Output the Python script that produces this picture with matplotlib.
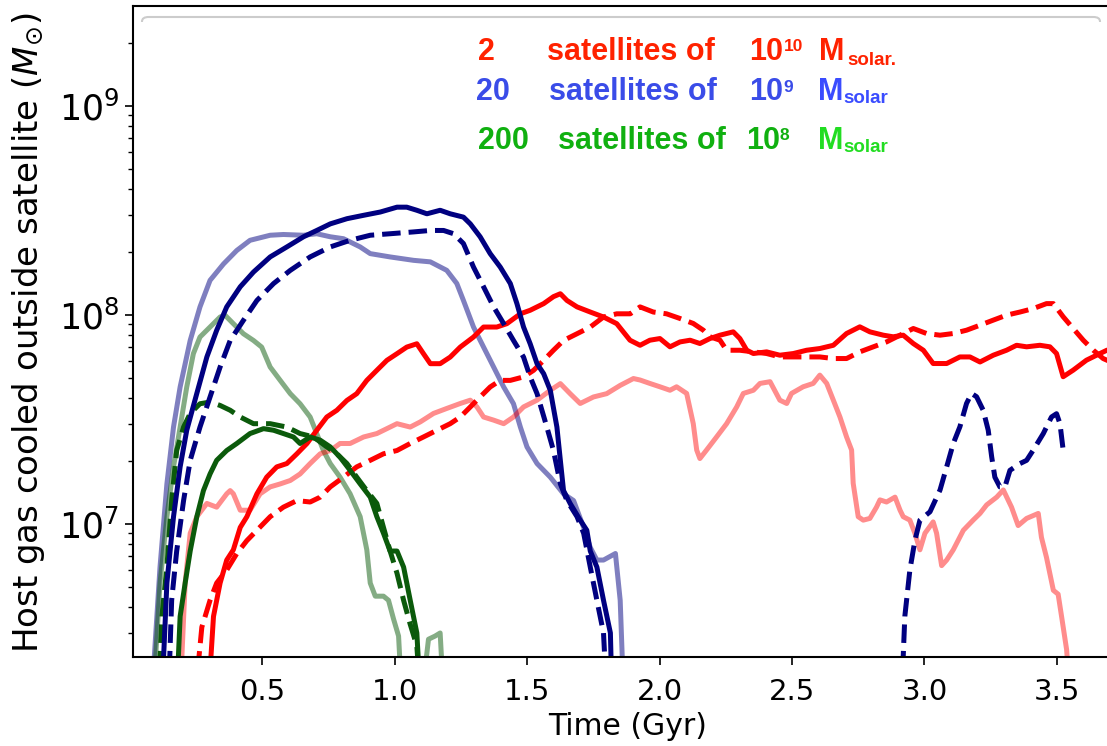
"""Host gas cooled outside satellites vs time, three satellite populations"""
import matplotlib
matplotlib.use("Agg")
import matplotlib.pyplot as plt
import numpy as np
from matplotlib.patches import FancyBboxPatch, Rectangle

# ---- data: time in Gyr, mass in units of 1e7 M_sun ----
# 20 satellites of 1e9 (faded run)
blue_faint_t = [0.082, 0.113, 0.139, 0.164, 0.189, 0.227, 0.264, 0.302, 0.353, 0.403, 0.453,
                0.529, 0.579, 0.655, 0.705, 0.756, 0.806, 0.869, 0.907, 0.982, 1.071, 1.134,
                1.196, 1.234, 1.259, 1.297, 1.335, 1.373, 1.411, 1.448, 1.474, 1.499, 1.537,
                1.587, 1.637, 1.675, 1.713, 1.738, 1.763, 1.788, 1.833, 1.851, 1.864]
blue_faint_m = [0.15, 0.62, 1.55, 2.90, 4.51, 7.53, 10.9, 14.6, 17.5, 20.3, 22.7,
                24.0, 24.2, 24.0, 24.4, 23.6, 23.1, 21.1, 19.6, 18.9, 18.2, 17.9,
                16.3, 14.1, 11.7, 8.73, 7.00, 5.62, 4.51, 3.75, 2.90, 2.33, 1.94,
                1.67, 1.39, 1.29, 0.96, 0.77, 0.67, 0.67, 0.72, 0.43, 0.15]

# 20 satellites of 1e9 (solid)
blue_solid_t = [0.120, 0.139, 0.164, 0.189, 0.214, 0.252, 0.290, 0.327, 0.365, 0.416, 0.466,
                0.529, 0.592, 0.655, 0.705, 0.756, 0.819, 0.882, 0.945, 1.008, 1.045, 1.083,
                1.121, 1.171, 1.209, 1.259, 1.285, 1.322, 1.360, 1.398, 1.436, 1.461, 1.486,
                1.511, 1.537, 1.562, 1.587, 1.612, 1.625, 1.637, 1.662, 1.700, 1.725, 1.738,
                1.763, 1.788, 1.814, 1.820]
blue_solid_m = [0.15, 0.52, 1.08, 1.87, 2.80, 4.20, 6.28, 8.42, 10.9, 13.6, 16.0,
                18.9, 21.1, 23.6, 25.3, 27.2, 28.8, 29.9, 31.0, 32.7, 32.7, 31.6,
                30.4, 31.6, 30.4, 29.3, 27.2, 23.6, 19.6, 16.9, 14.1, 11.3, 8.73,
                7.26, 5.83, 5.22, 4.35, 2.90, 2.01, 1.44, 1.25, 1.04, 0.93, 0.74,
                0.62, 0.43, 0.30, 0.15]

# 20 satellites of 1e9 (dashed), early and late segments
blue_dash_t = [0.145, 0.157, 0.176, 0.202, 0.227, 0.264, 0.302, 0.340, 0.378, 0.428, 0.479,
               0.542, 0.605, 0.680, 0.756, 0.831, 0.907, 0.982, 1.071, 1.134, 1.184, 1.222,
               1.259, 1.297, 1.335, 1.373, 1.411, 1.448, 1.486, 1.511, 1.537, 1.574, 1.599,
               1.625, 1.650, 1.688, 1.713, 1.738, 1.763, 1.788, 1.800]
blue_dash_m = [0.15, 0.43, 0.74, 1.29, 2.01, 2.90, 4.04, 5.62, 7.53, 9.40, 11.7,
               14.1, 16.3, 18.9, 21.1, 22.7, 24.0, 24.4, 24.9, 25.3, 25.3, 24.4,
               21.9, 16.9, 13.6, 10.9, 9.06, 7.53, 6.27, 5.04, 4.19, 2.90, 2.24,
               1.55, 1.29, 1.08, 0.90, 0.62, 0.43, 0.30, 0.15]
blue_dash_late_t = [2.914, 2.926, 2.945, 2.964, 2.983, 3.021, 3.059, 3.084, 3.109, 3.134, 3.159,
                    3.178, 3.197, 3.222, 3.241, 3.254, 3.266, 3.285, 3.304, 3.323, 3.361, 3.386,
                    3.411, 3.449, 3.480, 3.499, 3.512, 3.524]
blue_dash_late_m = [0.15, 0.36, 0.60, 0.83, 1.04, 1.14, 1.45, 1.87, 2.42, 2.91, 3.76,
                    4.20, 4.05, 3.49, 2.80, 2.09, 1.67, 1.50, 1.50, 1.80, 1.94, 2.01,
                    2.25, 2.70, 3.24, 3.36, 3.01, 2.25]

# 2 satellites of 1e10 (faded run)
red_faint_t = [0.189, 0.208, 0.227, 0.252, 0.290, 0.327, 0.365, 0.378, 0.390, 0.416, 0.453,
               0.491, 0.529, 0.567, 0.605, 0.642, 0.680, 0.718, 0.756, 0.793, 0.831, 0.882,
               0.932, 0.982, 1.008, 1.058, 1.096, 1.146, 1.196, 1.247, 1.285, 1.310, 1.335,
               1.373, 1.411, 1.448, 1.486, 1.537, 1.587, 1.625, 1.662, 1.700, 1.750, 1.800,
               1.851, 1.901, 1.926, 1.963, 2.001, 2.039, 2.064, 2.102, 2.127, 2.140, 2.152,
               2.177, 2.215, 2.253, 2.291, 2.316, 2.354, 2.379, 2.417, 2.454, 2.480, 2.498,
               2.542, 2.580, 2.605, 2.631, 2.656, 2.681, 2.706, 2.725, 2.731, 2.750, 2.769,
               2.794, 2.819, 2.832, 2.857, 2.889, 2.908, 2.920, 2.945, 2.964, 2.983, 3.002,
               3.033, 3.046, 3.065, 3.084, 3.109, 3.147, 3.184, 3.210, 3.235, 3.273, 3.298,
               3.329, 3.354, 3.386, 3.430, 3.442, 3.461, 3.487, 3.505, 3.518, 3.537, 3.550]
red_faint_m = [0.15, 0.52, 0.90, 1.08, 1.25, 1.20, 1.39, 1.44, 1.39, 1.16, 1.16,
               1.39, 1.50, 1.55, 1.61, 1.73, 1.94, 2.16, 2.24, 2.42, 2.42, 2.60,
               2.70, 2.90, 3.01, 2.90, 3.07, 3.37, 3.56, 3.76, 3.90, 3.62, 3.24,
               3.13, 3.01, 3.24, 3.62, 3.90, 4.35, 4.68, 4.19, 3.76, 4.04, 4.19,
               4.59, 4.95, 4.87, 4.69, 4.52, 4.35, 4.52, 4.20, 3.01, 2.25, 2.05,
               2.25, 2.60, 3.01, 3.62, 4.20, 4.35, 4.69, 4.78, 3.90, 3.76, 4.20,
               4.52, 4.69, 5.14, 4.69, 3.90, 3.24, 2.60, 2.25, 1.56, 1.08, 1.04,
               1.06, 1.20, 1.30, 1.27, 1.34, 1.16, 1.08, 1.04, 0.90, 0.75, 0.90,
               1.02, 0.90, 0.63, 0.67, 0.75, 0.93, 1.04, 1.12, 1.23, 1.34, 1.45,
               1.20, 0.98, 1.06, 1.12, 0.86, 0.69, 0.48, 0.46, 0.36, 0.25, 0.15]

# 2 satellites of 1e10 (solid)
red_solid_t = [0.296, 0.315, 0.340, 0.365, 0.390, 0.416, 0.441, 0.479, 0.516, 0.554, 0.592,
               0.630, 0.668, 0.705, 0.743, 0.781, 0.819, 0.856, 0.894, 0.932, 0.970, 1.008,
               1.045, 1.083, 1.108, 1.134, 1.171, 1.209, 1.247, 1.297, 1.335, 1.385, 1.423,
               1.474, 1.511, 1.562, 1.599, 1.625, 1.650, 1.688, 1.738, 1.788, 1.838, 1.888,
               1.926, 1.963, 2.001, 2.039, 2.077, 2.115, 2.152, 2.190, 2.228, 2.278, 2.303,
               2.329, 2.354, 2.404, 2.454, 2.505, 2.555, 2.605, 2.656, 2.706, 2.756, 2.794,
               2.845, 2.882, 2.920, 2.958, 2.996, 3.033, 3.084, 3.134, 3.172, 3.210, 3.260,
               3.310, 3.348, 3.386, 3.436, 3.474, 3.499, 3.524, 3.562, 3.612, 3.663, 3.689,
               3.750]
red_solid_m = [0.15, 0.36, 0.52, 0.67, 0.75, 0.96, 1.08, 1.39, 1.67, 1.87, 1.94,
               2.16, 2.42, 2.80, 3.24, 3.49, 3.89, 4.19, 4.85, 5.42, 6.05, 6.51,
               7.00, 7.26, 6.51, 5.83, 5.83, 6.27, 7.00, 7.82, 8.73, 8.73, 9.06,
               10.1, 10.5, 11.3, 12.2, 12.6, 11.7, 10.9, 10.3, 9.75, 9.06, 7.55,
               7.14, 7.55, 7.69, 7.02, 7.41, 7.55, 7.28, 7.69, 7.98, 8.28, 7.69,
               6.76, 6.52, 6.64, 6.40, 6.52, 6.76, 6.89, 7.14, 8.13, 8.75, 8.28,
               7.98, 7.84, 7.98, 7.28, 6.76, 5.84, 5.84, 6.28, 6.28, 5.94, 6.40,
               6.76, 7.14, 7.02, 7.14, 7.02, 6.52, 5.05, 5.43, 6.06, 6.52, 6.76,
               7.00]

# 2 satellites of 1e10 (dashed)
red_dash_t = [0.246, 0.271, 0.302, 0.327, 0.365, 0.403, 0.441, 0.479, 0.529, 0.579, 0.630,
              0.680, 0.718, 0.756, 0.806, 0.856, 0.907, 0.957, 1.008, 1.058, 1.108, 1.159,
              1.209, 1.247, 1.285, 1.322, 1.360, 1.398, 1.436, 1.486, 1.524, 1.562, 1.599,
              1.637, 1.688, 1.738, 1.788, 1.838, 1.889, 1.926, 1.976, 2.026, 2.077, 2.127,
              2.165, 2.190, 2.228, 2.253, 2.303, 2.354, 2.404, 2.454, 2.505, 2.555, 2.605,
              2.656, 2.706, 2.756, 2.807, 2.857, 2.908, 2.958, 3.008, 3.059, 3.109, 3.159,
              3.210, 3.260, 3.310, 3.361, 3.411, 3.461, 3.487, 3.524, 3.562, 3.600, 3.638,
              3.675, 3.750]
red_dash_m = [0.15, 0.32, 0.43, 0.52, 0.60, 0.72, 0.83, 0.93, 1.08, 1.20, 1.29,
              1.27, 1.34, 1.50, 1.67, 1.87, 2.01, 2.16, 2.24, 2.42, 2.60, 2.80,
              3.01, 3.24, 3.62, 4.04, 4.51, 4.85, 4.85, 5.04, 5.42, 6.05, 6.76,
              7.53, 8.11, 8.73, 9.75, 10.1, 10.1, 10.9, 10.3, 10.1, 9.59, 9.08,
              8.43, 7.84, 7.55, 6.76, 6.76, 6.64, 6.52, 6.28, 6.28, 6.28, 6.28,
              6.17, 6.17, 6.64, 7.02, 7.41, 7.98, 8.59, 8.13, 7.98, 8.13, 8.43,
              8.91, 9.42, 9.95, 10.3, 10.7, 11.3, 11.3, 9.78, 8.59, 7.55, 6.76,
              6.17, 5.60]

# 200 satellites of 1e8 (faded run)
green_faint_t = [0.088, 0.113, 0.139, 0.164, 0.189, 0.214, 0.239, 0.264, 0.302, 0.340, 0.359,
                 0.390, 0.428, 0.466, 0.497, 0.529, 0.567, 0.605, 0.642, 0.680, 0.705, 0.730,
                 0.756, 0.793, 0.831, 0.869, 0.894, 0.907, 0.926, 0.957, 0.976, 0.995, 1.014,
                 1.026]
green_faint_m = [0.15, 0.52, 1.08, 1.87, 2.90, 4.51, 6.51, 7.82, 8.73, 9.75, 9.93,
                 9.06, 8.11, 7.53, 7.00, 5.62, 4.85, 4.19, 3.75, 3.24, 2.70, 2.24,
                 1.94, 1.67, 1.39, 1.08, 0.75, 0.52, 0.45, 0.45, 0.43, 0.35, 0.29,
                 0.15]
green_faint_late_t = [1.102, 1.127, 1.152, 1.171, 1.184]
green_faint_late_m = [0.15, 0.28, 0.29, 0.30, 0.15]

# 200 satellites of 1e8 (solid)
green_solid_t = [0.176, 0.189, 0.208, 0.227, 0.252, 0.277, 0.302, 0.327, 0.365, 0.403, 0.453,
                 0.504, 0.542, 0.579, 0.617, 0.642, 0.680, 0.718, 0.756, 0.793, 0.831, 0.869,
                 0.907, 0.932, 0.957, 0.982, 1.008, 1.033, 1.058, 1.083, 1.096]
green_solid_m = [0.15, 0.36, 0.52, 0.74, 1.08, 1.44, 1.73, 2.01, 2.24, 2.42, 2.70,
                 2.85, 2.80, 2.70, 2.60, 2.42, 2.60, 2.51, 2.33, 2.08, 1.80, 1.55,
                 1.34, 1.08, 0.90, 0.74, 0.74, 0.62, 0.43, 0.30, 0.15]

# 200 satellites of 1e8 (dashed)
green_dash_t = [0.107, 0.120, 0.139, 0.157, 0.176, 0.202, 0.227, 0.264, 0.302, 0.340, 0.378,
                0.416, 0.466, 0.529, 0.592, 0.642, 0.693, 0.743, 0.781, 0.819, 0.856, 0.894,
                0.932, 0.957, 0.982, 1.008, 1.033, 1.058, 1.083, 1.096]
green_dash_m = [0.15, 0.36, 0.62, 1.29, 2.24, 2.90, 3.37, 3.75, 3.82, 3.68, 3.49,
                3.24, 3.01, 3.01, 2.90, 2.70, 2.60, 2.33, 2.16, 1.94, 1.67, 1.44,
                1.25, 0.96, 0.74, 0.58, 0.43, 0.33, 0.26, 0.15]

x_ticks = [0.5, 1.0, 1.5, 2.0, 2.5, 3.0, 3.5]
UNIT = 1e7

W, H = 1107, 746
fig = plt.figure(figsize=(W / 100, H / 100), dpi=100)
ax = fig.add_axes([133 / W, (H - 656.7) / H, (1123 - 133) / W, (656.7 - 6.3) / H])

lw = 3.6
navy = '#000080'
dgreen = '#0b5a0b'

# faded runs first
ax.plot(blue_faint_t, np.array(blue_faint_m) * UNIT, color=navy, alpha=0.5, lw=lw)
ax.plot(green_faint_t, np.array(green_faint_m) * UNIT, color=dgreen, alpha=0.5, lw=lw)
ax.plot(green_faint_late_t, np.array(green_faint_late_m) * UNIT, color=dgreen, alpha=0.5, lw=lw)
ax.plot(red_faint_t, np.array(red_faint_m) * UNIT, color='red', alpha=0.45, lw=lw)

ax.plot(red_solid_t, np.array(red_solid_m) * UNIT, color='red', lw=lw)
ax.plot(red_dash_t, np.array(red_dash_m) * UNIT, color='red', lw=lw, ls='--')
ax.plot(green_solid_t, np.array(green_solid_m) * UNIT, color=dgreen, lw=lw)
ax.plot(green_dash_t, np.array(green_dash_m) * UNIT, color=dgreen, lw=lw, ls='--')
ax.plot(blue_solid_t, np.array(blue_solid_m) * UNIT, color=navy, lw=lw)
ax.plot(blue_dash_t, np.array(blue_dash_m) * UNIT, color=navy, lw=lw, ls='--')
ax.plot(blue_dash_late_t, np.array(blue_dash_late_m) * UNIT, color=navy, lw=lw, ls='--')

ax.set_yscale('log')
ax.set_xlim(0.011, 3.75)
ax.set_ylim(2.31e6, 2.99e9)
ax.set_xticks(x_ticks)
ax.set_xticklabels([f'{v:.1f}' for v in x_ticks])
ax.tick_params(axis='both', which='major', length=6, width=1.2, direction='out')
ax.tick_params(axis='x', which='major', labelsize=21, pad=9)
ax.tick_params(axis='y', which='major', labelsize=25, pad=4)
ax.tick_params(axis='y', which='minor', length=3.5, width=1.0)
for s in ax.spines.values():
    s.set_linewidth(1.5)
ax.set_xlabel('Time (Gyr)', fontsize=21.5, labelpad=5)
ax.set_ylabel(r'Host gas cooled outside satellite ($M_{\odot}$)', fontsize=24.5, va='center')
ax.yaxis.set_label_coords((29 - 133) / 990, (656.7 - 333) / 650.4)

# legend-like frame (only the top edge shows)
frame = FancyBboxPatch((142 / W, 1 - 40 / H), (1100 - 142) / W, 23 / H,
                       boxstyle='round,pad=0,rounding_size=0.006',
                       transform=fig.transFigure, fc='white', ec='#cccccc', lw=1.5, zorder=5)
fig.patches.append(frame)
fig.patches.append(Rectangle((138 / W, 1 - 170 / H), (1107 - 138) / W, (170 - 22) / H,
                             transform=fig.transFigure, fc='white', ec='none', zorder=6))

# coloured annotation rows: (x px, text, size, y baseline px, colour)
fam = ['Liberation Sans', 'DejaVu Sans']
rows = [
    [(478, '2', 22, 60, '#ff2200'), (547, 'satellites of', 22, 60, '#ff2200'),
     (749, '10', 22, 60, '#ff2200'), (784, '10', 12.5, 51, '#ff2200'),
     (819, 'M', 22, 60, '#ff2200'), (847, 'solar.', 13.5, 65, '#ff2200')],
    [(476, '20', 22, 100, '#3a4ce8'), (549, 'satellites of', 22, 100, '#3a4ce8'),
     (749, '10', 22, 100, '#3a4ce8'), (783, '9', 12.5, 92, '#3a4ce8'),
     (818, 'M', 22, 100, '#3a4cff'), (843, 'solar', 13.5, 103, '#3a4cff')],
    [(478, '200', 22, 149, '#10b010'), (558, 'satellites of', 22, 149, '#10b010'),
     (746, '10', 22, 149, '#10b010'), (780, '8', 12.5, 140, '#10b010'),
     (818, 'M', 22, 149, '#22dd22'), (843, 'solar', 13.5, 152, '#22dd22')],
]
for row in rows:
    for x, s, fs, y, c in row:
        fig.text(x / W, 1 - y / H, s, fontsize=fs, color=c, fontweight='bold',
                 family=fam, ha='left', va='baseline', zorder=7)

fig.savefig('out.png', dpi=100, facecolor='white')
